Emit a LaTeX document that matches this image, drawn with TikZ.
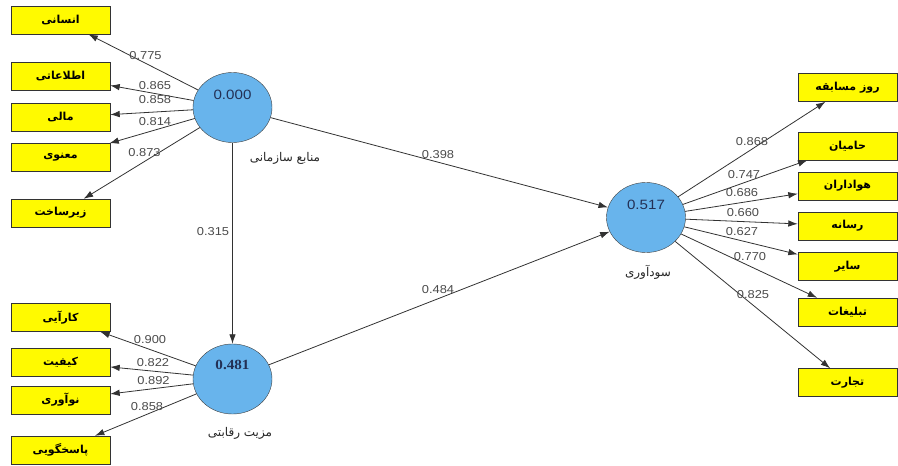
\documentclass[tikz,border=0pt]{standalone}
\usepackage{fontspec}
\setmainfont{Liberation Sans}[FakeStretch=1.12]
\newfontfamily\persianfont[Script=Arabic]{DejaVu Sans}
\newfontfamily\serifnum[FakeStretch=1.08]{Liberation Serif}
\TeXXeTstate=1
\usepackage{xcolor}
\usepackage{tikz}
\usetikzlibrary{arrows.meta,shapes.geometric}
\definecolor{plsblue}{RGB}{104,180,236}
\definecolor{plsyellow}{RGB}{255,250,0}
\definecolor{linegray}{RGB}{50,50,50}
\definecolor{numgray}{RGB}{75,75,75}
\definecolor{numblue}{RGB}{35,48,85}
\newcommand{\fatext}[1]{{\persianfont\beginR #1\endR}}

\begin{document}
\begin{tikzpicture}[
    x=1pt, y=-1pt,
    indicator/.style={
      draw=black!80, fill=plsyellow, minimum width=99pt, minimum height=28pt,
      inner sep=0pt, font=\bfseries\fontsize{11}{13}\selectfont
    },
    construct/.style={
      ellipse, draw=black!75, fill=plsblue, minimum width=79pt,
      minimum height=70pt, inner sep=0pt
    },
    cnum/.style={text=numblue, font=\fontsize{13.5}{15}\selectfont, inner sep=0pt},
    cname/.style={text=black!85, font=\fontsize{12}{14}\selectfont, inner sep=0pt},
    loading/.style={text=numgray, font=\fontsize{11.5}{13}\selectfont, inner sep=0pt},
    arrow/.style={-{Latex[length=9.5pt,width=6.5pt]}, draw=linegray, line width=0.8pt}
  ]
    \useasboundingbox (0,0) rectangle (898,466);

    % constructs
    \node[construct, label={[cnum, yshift=12.5pt]center:0.000}] (org) at (232.5,107.5) {};
    \node[construct, label={[cnum, yshift=14pt, font=\serifnum\bfseries\fontsize{14}{16}\selectfont]center:0.481}] (adv) at (232.5,379) {};
    \node[construct, label={[cnum, yshift=12.5pt]center:0.517}] (profit) at (646,217.5) {};
    \node[cname] (orgname) at (285,158) {\fatext{منابع سازمانی}};
    \node[cname] (advname) at (240,433) {\fatext{مزیت رقابتی}};
    \node[cname] (profitname) at (648,272) {\fatext{سودآوری}};

    % indicators of organisational resources
    \node[indicator] (ensani) at (60.5,20) {\fatext{انسانی}};
    \node[indicator] (etelaati) at (60.5,76.5) {\fatext{اطلاعاتی}};
    \node[indicator] (mali) at (60.5,117.5) {\fatext{مالی}};
    \node[indicator] (manavi) at (60.5,157.5) {\fatext{معنوی}};
    \node[indicator] (zirsakht) at (60.5,213) {\fatext{زیرساخت}};

    % indicators of competitive advantage
    \node[indicator] (karayi) at (60.5,317.5) {\fatext{کارآیی}};
    \node[indicator] (keyfiyat) at (60.5,362) {\fatext{کیفیت}};
    \node[indicator] (noavari) at (60.5,400) {\fatext{نوآوری}};
    \node[indicator] (pasokh) at (60.5,450) {\fatext{پاسخگویی}};

    % indicators of profitability
    \node[indicator] (ruz) at (847.5,87.5) {\fatext{روز مسابقه}};
    \node[indicator] (hamian) at (847.5,146) {\fatext{حامیان}};
    \node[indicator] (havadar) at (847.5,186) {\fatext{هواداران}};
    \node[indicator] (resane) at (847.5,226) {\fatext{رسانه}};
    \node[indicator] (sayer) at (847.5,266.5) {\fatext{سایر}};
    \node[indicator] (tablighat) at (847.5,312) {\fatext{تبلیغات}};
    \node[indicator] (tejarat) at (847.5,382.5) {\fatext{تجارت}};

    % paths
    \draw[arrow] (org) -- (adv);
    \draw[arrow] (org) -- (profit);
    \draw[arrow] (adv) -- (profit);
    \node[loading] (p1) at (213,232) {0.315};
    \node[loading] (p2) at (438,155) {0.398};
    \node[loading] (p3) at (438,290) {0.484};

    % outer loadings
    \foreach \ind/\val/\lx/\ly in {ensani/0.775/145.5/56, etelaati/0.865/155/86,
        mali/0.858/155/100, manavi/0.814/155/122, zirsakht/0.873/144.5/153} {
      \draw[arrow] (org) -- (\ind);
      \node[loading] (l-\ind) at (\lx,\ly) {\val};
    }
    \foreach \ind/\val/\lx/\ly in {karayi/0.900/150/340, keyfiyat/0.822/153/363,
        noavari/0.892/153.5/380.5, pasokh/0.858/147/407} {
      \draw[arrow] (adv) -- (\ind);
      \node[loading] (l-\ind) at (\lx,\ly) {\val};
    }
    \foreach \ind/\val/\lx/\ly in {ruz/0.868/752/142, hamian/0.747/744/175,
        havadar/0.686/742/193, resane/0.660/743/213, sayer/0.627/742/232,
        tablighat/0.770/750/257, tejarat/0.825/753/295} {
      \draw[arrow] (profit) -- (\ind);
      \node[loading] (l-\ind) at (\lx,\ly) {\val};
    }
  \end{tikzpicture}
\end{document}
